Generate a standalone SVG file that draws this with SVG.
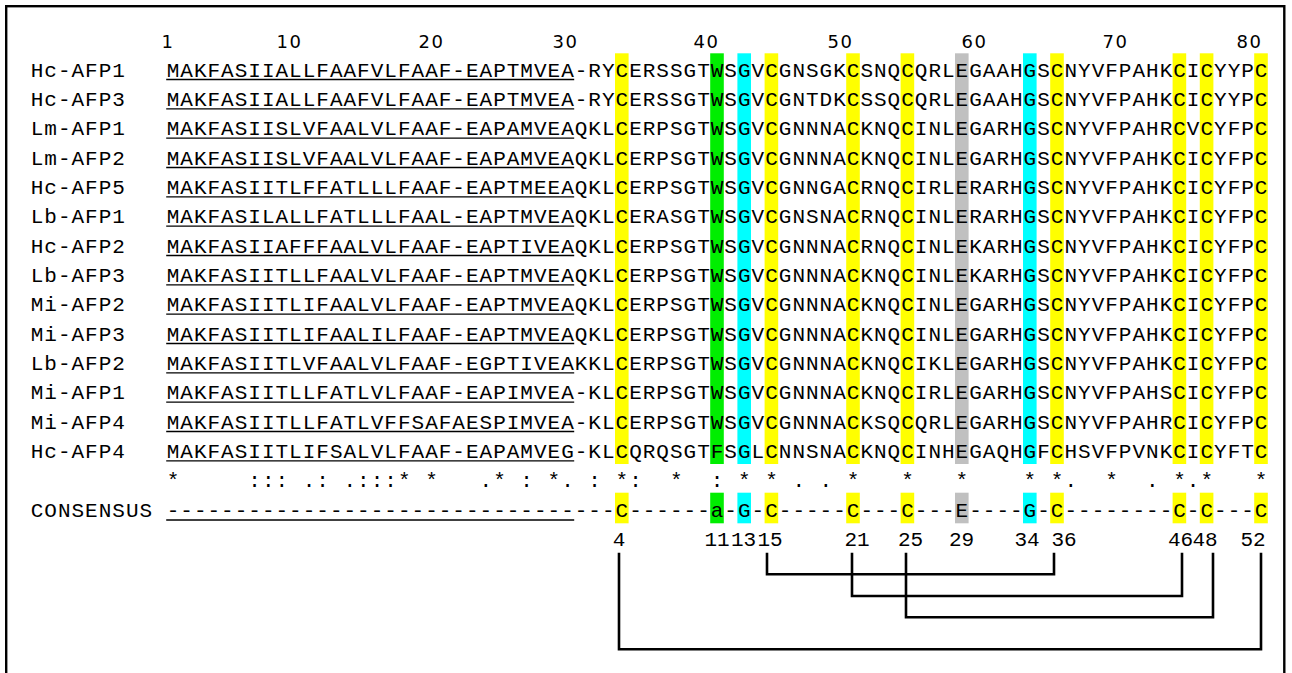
<svg xmlns="http://www.w3.org/2000/svg" width="1292" height="673" viewBox="0 0 1292 673">
<style>
.t{font-family:"Liberation Mono","Courier New",monospace;font-size:21px;letter-spacing:1px;fill:#000;white-space:pre}
.n{font-family:"DejaVu Sans",Verdana,sans-serif;font-size:18px;letter-spacing:1.5px;fill:#000}
.b{font-family:"Liberation Mono","Courier New",monospace;font-size:21px;fill:#000;text-anchor:middle}
.u{stroke:#000;stroke-width:1.3;fill:none}
.y{fill:#ffff00}.g{fill:#00ee00}.c{fill:#00ffff}.e{fill:#c0c0c0}
.br{stroke:#000;stroke-width:2.6;fill:none}
</style>
<rect x="6.2" y="6.2" width="1278.1" height="720" fill="#fff" stroke="#000" stroke-width="2.4"/>
<g id="ruler">
<text class="n" x="161.5" y="48.3">1</text>
<text class="n" x="276.5" y="48.3">10</text>
<text class="n" x="418.5" y="48.3">20</text>
<text class="n" x="552.5" y="48.3">30</text>
<text class="n" x="693.5" y="48.3">40</text>
<text class="n" x="827.5" y="48.3">50</text>
<text class="n" x="961.5" y="48.3">60</text>
<text class="n" x="1102.5" y="48.3">70</text>
<text class="n" x="1236.5" y="48.3">80</text>
</g>
<g id="highlights">
<rect class="y" x="615" y="53.3" width="13.6" height="410.7"/>
<rect class="g" x="710.2" y="53.3" width="13.6" height="410.7"/>
<rect class="c" x="737.4" y="53.3" width="13.6" height="410.7"/>
<rect class="y" x="764.6" y="53.3" width="13.6" height="410.7"/>
<rect class="y" x="846.2" y="53.3" width="13.6" height="410.7"/>
<rect class="y" x="900.6" y="53.3" width="13.6" height="410.7"/>
<rect class="e" x="955" y="53.3" width="13.6" height="410.7"/>
<rect class="c" x="1023" y="53.3" width="13.6" height="410.7"/>
<rect class="y" x="1050.2" y="53.3" width="13.6" height="410.7"/>
<rect class="y" x="1172.6" y="53.3" width="13.6" height="410.7"/>
<rect class="y" x="1199.8" y="53.3" width="13.6" height="410.7"/>
<rect class="y" x="1254.2" y="53.3" width="13.6" height="410.7"/>
</g>
<g id="row-Hc-AFP1"><text class="t" x="30.7" y="76.5">Hc-AFP1</text><text class="t" x="166.7" y="76.5">MAKFASIIALLFAAFVLFAAF-EAPTMVEA-RYCERSSGTWSGVCGNSGKCSNQCQRLEGAAHGSCNYVFPAHKCICYYPC</text><path class="u" d="M166.2 79.5H574.2"/></g>
<g id="row-Hc-AFP3"><text class="t" x="30.7" y="105.83">Hc-AFP3</text><text class="t" x="166.7" y="105.83">MAKFASIIALLFAAFVLFAAF-EAPTMVEA-RYCERSSGTWSGVCGNTDKCSSQCQRLEGAAHGSCNYVFPAHKCICYYPC</text><path class="u" d="M166.2 108.83H574.2"/></g>
<g id="row-Lm-AFP1"><text class="t" x="30.7" y="135.17">Lm-AFP1</text><text class="t" x="166.7" y="135.17">MAKFASIISLVFAALVLFAAF-EAPAMVEAQKLCERPSGTWSGVCGNNNACKNQCINLEGARHGSCNYVFPAHRCVCYFPC</text><path class="u" d="M166.2 138.17H574.2"/></g>
<g id="row-Lm-AFP2"><text class="t" x="30.7" y="164.5">Lm-AFP2</text><text class="t" x="166.7" y="164.5">MAKFASIISLVFAALVLFAAF-EAPAMVEAQKLCERPSGTWSGVCGNNNACKNQCINLEGARHGSCNYVFPAHKCICYFPC</text><path class="u" d="M166.2 167.5H574.2"/></g>
<g id="row-Hc-AFP5"><text class="t" x="30.7" y="193.83">Hc-AFP5</text><text class="t" x="166.7" y="193.83">MAKFASIITLFFATLLLFAAF-EAPTMEEAQKLCERPSGTWSGVCGNNGACRNQCIRLERARHGSCNYVFPAHKCICYFPC</text><path class="u" d="M166.2 196.83H574.2"/></g>
<g id="row-Lb-AFP1"><text class="t" x="30.7" y="223.17">Lb-AFP1</text><text class="t" x="166.7" y="223.17">MAKFASILALLFATLLLFAAL-EAPTMVEAQKLCERASGTWSGVCGNSNACRNQCINLERARHGSCNYVFPAHKCICYFPC</text><path class="u" d="M166.2 226.17H574.2"/></g>
<g id="row-Hc-AFP2"><text class="t" x="30.7" y="252.5">Hc-AFP2</text><text class="t" x="166.7" y="252.5">MAKFASIIAFFFAALVLFAAF-EAPTIVEAQKLCERPSGTWSGVCGNNNACRNQCINLEKARHGSCNYVFPAHKCICYFPC</text><path class="u" d="M166.2 255.5H574.2"/></g>
<g id="row-Lb-AFP3"><text class="t" x="30.7" y="281.83">Lb-AFP3</text><text class="t" x="166.7" y="281.83">MAKFASIITLLFAALVLFAAF-EAPTMVEAQKLCERPSGTWSGVCGNNNACKNQCINLEKARHGSCNYVFPAHKCICYFPC</text><path class="u" d="M166.2 284.83H574.2"/></g>
<g id="row-Mi-AFP2"><text class="t" x="30.7" y="311.17">Mi-AFP2</text><text class="t" x="166.7" y="311.17">MAKFASIITLIFAALVLFAAF-EAPTMVEAQKLCERPSGTWSGVCGNNNACKNQCINLEGARHGSCNYVFPAHKCICYFPC</text><path class="u" d="M166.2 314.17H574.2"/></g>
<g id="row-Mi-AFP3"><text class="t" x="30.7" y="340.5">Mi-AFP3</text><text class="t" x="166.7" y="340.5">MAKFASIITLIFAALILFAAF-EAPTMVEAQKLCERPSGTWSGVCGNNNACKNQCINLEGARHGSCNYVFPAHKCICYFPC</text><path class="u" d="M166.2 343.5H574.2"/></g>
<g id="row-Lb-AFP2"><text class="t" x="30.7" y="369.83">Lb-AFP2</text><text class="t" x="166.7" y="369.83">MAKFASIITLVFAALVLFAAF-EGPTIVEAKKLCERPSGTWSGVCGNNNACKNQCIKLEGARHGSCNYVFPAHKCICYFPC</text><path class="u" d="M166.2 372.83H574.2"/></g>
<g id="row-Mi-AFP1"><text class="t" x="30.7" y="399.17">Mi-AFP1</text><text class="t" x="166.7" y="399.17">MAKFASIITLLFATLVLFAAF-EAPIMVEA-KLCERPSGTWSGVCGNNNACKNQCIRLEGARHGSCNYVFPAHSCICYFPC</text><path class="u" d="M166.2 402.17H574.2"/></g>
<g id="row-Mi-AFP4"><text class="t" x="30.7" y="428.5">Mi-AFP4</text><text class="t" x="166.7" y="428.5">MAKFASIITLLFATLVFFSAFAESPIMVEA-KLCERPSGTWSGVCGNNNACKSQCQRLEGARHGSCNYVFPAHRCICYFPC</text><path class="u" d="M166.2 431.5H574.2"/></g>
<g id="row-Hc-AFP4"><text class="t" x="30.7" y="457.83">Hc-AFP4</text><text class="t" x="166.7" y="457.83">MAKFASIITLIFSALVLFAAF-EAPAMVEG-KLCQRQSGTFSGLCNNSNACKNQCINHEGAQHGFCHSVFPVNKCICYFTC</text><path class="u" d="M166.2 460.83H574.2"/></g>
<g id="conservation"><text class="t" x="166.7" y="487.17" xml:space="preserve">*     ::: .: .:::* *   .* : *. : *:  *  : * * . . *   *   *    * *.  *  . *.*   *</text></g>
<g id="consensus">
<rect class="y" x="615" y="492.7" width="13.6" height="30.6"/>
<rect class="g" x="710.2" y="492.7" width="13.6" height="30.6"/>
<rect class="c" x="737.4" y="492.7" width="13.6" height="30.6"/>
<rect class="y" x="764.6" y="492.7" width="13.6" height="30.6"/>
<rect class="y" x="846.2" y="492.7" width="13.6" height="30.6"/>
<rect class="y" x="900.6" y="492.7" width="13.6" height="30.6"/>
<rect class="e" x="955" y="492.7" width="13.6" height="30.6"/>
<rect class="c" x="1023" y="492.7" width="13.6" height="30.6"/>
<rect class="y" x="1050.2" y="492.7" width="13.6" height="30.6"/>
<rect class="y" x="1172.6" y="492.7" width="13.6" height="30.6"/>
<rect class="y" x="1199.8" y="492.7" width="13.6" height="30.6"/>
<rect class="y" x="1254.2" y="492.7" width="13.6" height="30.6"/>
<text class="t" x="30.7" y="516.5">CONSENSUS</text>
<text class="t" x="166.7" y="516.5">---------------------------------C------a-G-C-----C---C---E----G-C--------C-C---C</text>
<path class="u" d="M166.2 520H574.2"/>
</g>
<g id="positions">
<text class="b" x="619" y="546">4</text>
<text class="b" x="717" y="546">11</text>
<text class="b" x="743.5" y="546">13</text>
<text class="b" x="770" y="546">15</text>
<text class="b" x="857" y="546">21</text>
<text class="b" x="910.5" y="546">25</text>
<text class="b" x="961.5" y="546">29</text>
<text class="b" x="1027" y="546">34</text>
<text class="b" x="1064" y="546">36</text>
<text class="b" x="1180.5" y="546">46</text>
<text class="b" x="1205" y="546">48</text>
<text class="b" x="1253" y="546">52</text>
</g>
<g id="connectors">
<path class="br" d="M619 552.7V649.3H1261V552.7"/>
<path class="br" d="M767 552.7V574.3H1054V552.7"/>
<path class="br" d="M852 552.7V596H1182V552.7"/>
<path class="br" d="M906 552.7V617.3H1213V552.7"/>
</g>
</svg>
